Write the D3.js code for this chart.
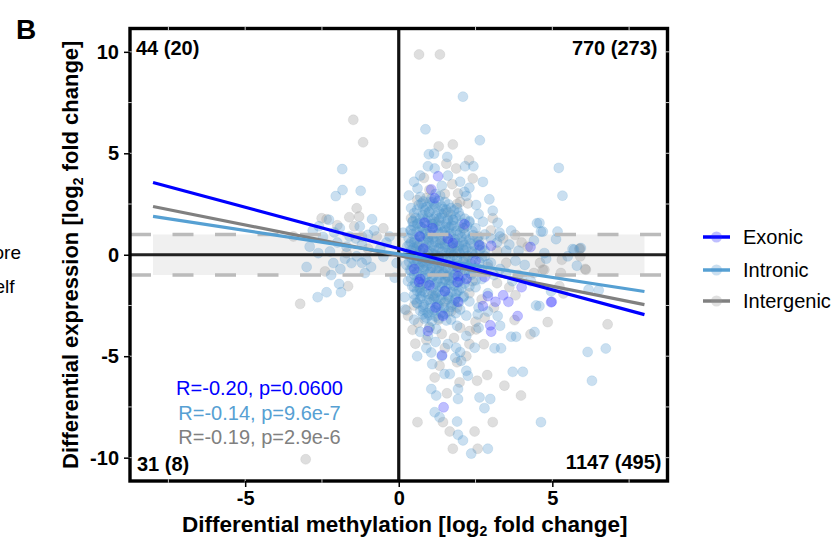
<!DOCTYPE html>
<html>
<head>
<meta charset="utf-8">
<script src="https://cdn.jsdelivr.net/npm/d3@7"></script>
<style>
  body { margin: 0; background: #fff; }
  svg { font-family: "Liberation Sans", Arial, sans-serif; }
</style>
</head>
<body>
<div id="chart"></div>
<script>
// Panel B: differential methylation vs differential expression

const xDomain = [-8.75, 8.75];
const yDomain = [-11.15, 11.15];
const xTicks = [-5, 0, 5];
const yTicks = [-10, -5, 0, 5, 10];
const minorTicks = [-10, -7.5, -5, -2.5, 2.5, 5, 7.5, 10];

const seriesNames = ['Exonic', 'Intronic', 'Intergenic'];
const seriesColors = ['#0000ff', '#56a0d3', '#808080'];
const pointColors = ['#2a2aff', '#4f96cc', '#999999'];

const exonicPts = [
  [1.28,3.87],[1.06,3.22],[1.17,2.78],[0.84,1.58],[2.14,1.50],[1.76,0.57],[2.63,0.46],[0.68,0.90],[3.01,0.44],[4.29,0.38],
  [0.66,-1.34],[1.93,-1.06],[1.92,-1.35],[1.93,-2.32],[2.74,-2.53],[3.15,-2.32],[3.57,-2.32],[3.87,-3.02],[4.98,-2.32],
  [2.98,-3.48],[3.01,-3.79],[1.44,-3.02],[0.95,-3.76],[1.41,-4.95],[1.46,-7.52],[2.90,-2.04],[4.96,-2.34],
  [0.8,0.3],[1.3,-0.2],[1.9,-0.6],[1.0,-1.5],[1.5,-1.8],[2.2,-1.2],[1.1,1.3],[1.6,0.8],[2.5,-0.3],[1.2,-2.6],
  [0.7,-1.2],[2.8,-1.1],[3.4,-2.0],[4.0,-1.6],[0.5,-0.7]
];

const intronicPts = [
  // left of zero
  [-1.84,4.22],[-1.83,3.19],[-2.05,2.89],[-1.24,3.15],[-2.27,1.72],[-0.87,1.75],[-1.92,1.32],[-1.27,1.39],[-1.0,0.98],
  [-2.47,0.88],[-2.62,0.08],[-2.24,0.16],[-1.37,-0.08],[-1.05,-0.25],[-2.13,-0.41],[-1.54,-0.41],[-1.94,-1.44],
  [-1.88,-1.85],[-2.35,-1.85],[-2.64,-2.09],[-0.07,-0.41],[-0.13,-1.13],[-2.0,0.6],[-1.6,0.9],[-1.2,0.5],[-0.6,0.3],
  [-2.8,1.2],[-0.4,0.6],[-1.75,-0.2],[-0.9,-0.6],[-2.2,-1.0],[-1.1,-0.9],[-2.9,0.4],[-0.5,-0.1],[-3.0,-0.6],
  [-2.1,1.1],[-1.7,0.4],[-1.4,0.8],[-0.8,1.2],[-2.6,1.4],[-1.2,-0.4],[-0.3,0.9],[-1.9,-0.7],
  // upper right
  [2.09,7.79],[0.87,6.18],[2.64,5.64],[0.98,4.95],[1.15,4.98],[1.58,4.82],[2.16,4.36],[2.43,4.36],[0.95,4.36],[1.17,4.25],
  [2.74,3.59],[0.33,2.92],[0.61,3.27],[2.14,3.10],[2.95,2.73],[2.52,2.45],[0.74,2.53],[3.06,2.17],[0.46,1.67],[2.74,1.63],
  [3.22,1.58],[1.76,1.72],[3.28,1.09],[3.66,1.19],[4.50,1.55],[4.63,1.14],[5.21,4.28],[5.33,2.91],[5.17,1.14],[5.12,0.77],
  [2.14,0.49],[0.14,1.09],[5.71,0.25],[5.93,0.33],[4.74,0.08],[4.58,1.57],[4.69,1.14],[5.50,-0.08],[5.66,0.28],
  [0.5,3.6],[0.7,3.9],[1.4,3.4],[1.6,3.9],[2.0,3.6],[2.3,3.3],[1.9,2.3],[2.6,2.0],[0.4,2.3],[2.2,2.9],
  [3.3,0.9],[3.6,0.5],[3.9,0.2],[4.1,-0.5],[3.5,-0.9],[3.0,0.8],[4.4,0.7],[4.8,-0.2],[4.3,-1.3],[3.7,-1.3],
  // lower right
  [0.2,-2.7],[0.19,-2.09],[0.52,-2.2],[0.74,-1.8],[0.79,-2.94],[0.95,-4.0],[1.06,-4.82],[1.09,-5.39],[1.49,-5.88],
  [1.66,-5.88],[2.03,-5.23],[1.84,-5.07],[1.87,-4.58],[1.06,-6.62],[1.22,-6.94],[1.93,-6.62],[1.93,-7.11],[2.20,-5.72],
  [2.25,-5.96],[2.63,-7.03],[2.98,-7.11],[2.79,-7.56],[3.71,-5.77],[4.04,-5.77],[1.17,-7.76],[1.33,-8.01],[1.90,-8.22],
  [1.93,-8.87],[2.09,-9.15],[2.36,-9.80],[2.90,-9.56],[4.63,-8.25],[4.47,-2.5],[4.42,-3.81],[3.66,-4.04],[3.82,-4.04],
  [3.12,-4.61],[3.33,-4.61],[2.47,-4.58],[2.57,-2.94],[3.22,-3.02],[4.96,-1.8],[6.18,-1.72],[6.51,-1.75],[4.58,-2.53],
  [6.15,-4.79],[6.74,-4.62],[6.29,-6.21],[5.80,-0.54],
  [0.5,-3.2],[0.7,-3.8],[1.2,-4.3],[1.6,-4.4],[2.2,-4.0],[2.6,-3.6],[2.9,-2.8],[3.3,-3.5],[0.9,-4.6],[1.4,-5.0],
  [2.0,-4.8],[0.6,-5.0],
  // dense core
  [0.4,1.2],[0.6,1.5],[0.8,1.8],[1.0,2.1],[1.2,2.4],[1.4,2.0],[1.6,1.7],[1.8,1.4],[2.0,1.1],[2.2,0.8],
  [0.5,0.6],[0.7,0.9],[0.9,1.2],[1.1,1.5],[1.3,1.8],[1.5,1.2],[1.7,0.9],[1.9,0.6],[2.1,0.3],[2.4,0.1],
  [0.3,0.0],[0.5,-0.3],[0.7,0.2],[0.9,0.5],[1.1,0.8],[1.3,1.1],[1.5,0.4],[1.7,0.1],[1.9,-0.2],[2.2,-0.5],
  [0.4,-0.8],[0.6,-1.1],[0.8,-0.6],[1.0,-0.3],[1.2,0.0],[1.4,-0.4],[1.6,-0.7],[1.8,-1.0],[2.0,-1.3],[2.3,-0.9],
  [0.5,-1.6],[0.7,-1.9],[0.9,-1.4],[1.1,-1.1],[1.3,-0.8],[1.5,-1.2],[1.7,-1.5],[1.9,-1.8],[2.1,-2.1],[2.5,-1.6],
  [0.6,-2.4],[0.8,-2.7],[1.0,-2.2],[1.2,-1.9],[1.4,-1.6],[1.6,-2.0],[1.8,-2.4],[2.0,-2.7],[2.3,-2.3],[2.7,-1.2],
  [0.9,-3.1],[1.1,-2.8],[1.3,-2.5],[1.5,-2.9],[1.7,-3.2],[1.9,-3.5],[2.2,-3.0],[2.6,-2.6],[2.9,-1.9],[3.1,-1.0],
  [2.6,0.5],[2.8,0.2],[3.0,-0.4],[3.3,-0.7],[2.5,1.3],[2.8,1.0],[3.2,0.6],[3.5,0.2],[3.8,-0.3],[4.0,-1.1],
  [1.0,2.6],[1.2,3.0],[0.8,2.3],[1.5,2.6],[1.7,2.3],[2.0,1.9],[2.3,1.6],[0.35,0.5],[0.25,-0.5],[0.3,-1.3],
  [0.55,0.25],[0.75,-0.15],[0.95,0.05],[1.15,0.35],[1.35,0.55],[1.55,-0.05],[1.75,0.45],[1.95,0.15],[1.05,-0.65],
  [1.25,-1.35],[1.45,-0.95],[1.65,-1.25],[0.85,-1.05],[0.65,-0.55],[1.35,1.45],[1.05,1.75],[0.95,0.85],[1.65,1.35],
  [1.45,2.25],[1.25,-2.15],[1.85,-2.15],[0.75,1.35],
  [0.7,2.85],[1.05,2.75],[1.35,2.9],
  [0.65,2.45],[0.9,2.35],[1.15,2.5],[1.4,2.38],[1.62,2.48],
  [0.5,2.05],[0.78,1.95],[0.98,2.1],[1.22,1.92],[1.48,2.06],[1.7,1.96],[1.95,2.08],
  [0.45,1.62],[0.62,1.55],[0.88,1.68],[1.08,1.52],[1.3,1.66],[1.55,1.54],[1.78,1.7],[2.05,1.58],[2.3,1.66],
  [0.38,1.22],[0.58,1.14],[0.8,1.28],[1.02,1.16],[1.2,1.3],[1.42,1.12],[1.64,1.26],[1.88,1.18],[2.12,1.3],[2.4,1.16],
  [0.32,0.82],[0.52,0.74],[0.72,0.88],[0.96,0.76],[1.14,0.86],[1.36,0.72],[1.58,0.9],[1.82,0.76],[2.04,0.86],[2.3,0.74],[2.56,0.84],
  [0.28,0.42],[0.48,0.34],[0.66,0.48],[0.86,0.36],[1.08,0.46],[1.3,0.32],[1.5,0.5],[1.72,0.36],[1.96,0.44],[2.2,0.34],[2.45,0.46],[2.72,0.38],
  [0.3,0.04],[0.5,-0.06],[0.7,0.08],[0.9,-0.04],[1.1,0.06],[1.32,-0.08],[1.54,0.1],[1.78,-0.02],[2.0,0.06],[2.25,-0.06],[2.5,0.04],[2.8,-0.08],
  [0.34,-0.36],[0.56,-0.46],[0.76,-0.34],[0.98,-0.44],[1.18,-0.32],[1.4,-0.48],[1.62,-0.36],[1.86,-0.46],[2.1,-0.34],[2.35,-0.44],[2.62,-0.36],[2.9,-0.46],
  [0.36,-0.76],[0.6,-0.86],[0.82,-0.74],[1.02,-0.84],[1.24,-0.78],[1.46,-0.88],[1.68,-0.74],[1.92,-0.84],[2.16,-0.76],[2.42,-0.86],[2.7,-0.74],
  [0.4,-1.16],[0.64,-1.26],[0.86,-1.14],[1.08,-1.24],[1.3,-1.18],[1.52,-1.28],[1.74,-1.14],[1.98,-1.24],[2.22,-1.16],[2.5,-1.26],
  [0.44,-1.56],[0.68,-1.66],[0.9,-1.54],[1.12,-1.64],[1.34,-1.58],[1.56,-1.68],[1.8,-1.54],[2.04,-1.64],[2.3,-1.56],
  [0.5,-1.96],[0.74,-2.06],[0.96,-1.94],[1.18,-2.04],[1.4,-1.98],[1.62,-2.08],[1.86,-1.94],[2.12,-2.04],
  [0.58,-2.36],[0.82,-2.46],[1.04,-2.34],[1.26,-2.44],[1.48,-2.38],[1.72,-2.48],[1.96,-2.34],
  [0.7,-2.76],[0.94,-2.86],[1.16,-2.74],[1.38,-2.84],[1.62,-2.78],[1.86,-2.88],
  [0.84,-3.16],[1.08,-3.26],[1.3,-3.14],[1.55,-3.24],
  [1.0,-3.56],[1.22,-3.66],
  [0.8,2.62],[1.1,2.58],[1.3,2.66],
  [0.6,2.22],[0.85,2.18],[1.1,2.24],[1.3,2.16],[1.55,2.22],[1.8,2.18],
  [0.55,1.82],[0.7,1.78],[0.95,1.84],[1.15,1.76],[1.38,1.82],[1.6,1.78],[1.85,1.84],[2.15,1.78],
  [0.48,1.42],[0.7,1.36],[0.92,1.44],[1.12,1.38],[1.32,1.42],[1.52,1.36],[1.72,1.44],[1.98,1.38],[2.22,1.42],
  [0.45,1.02],[0.66,0.96],[0.88,1.04],[1.08,0.98],[1.28,1.02],[1.48,0.96],[1.7,1.04],[1.92,0.98],[2.16,1.02],[2.42,0.96],
  [0.4,0.62],[0.6,0.56],[0.8,0.64],[0.98,0.58],[1.2,0.62],[1.4,0.56],[1.62,0.64],[1.84,0.58],[2.08,0.62],[2.34,0.56],[2.6,0.64],
  [0.4,0.22],[0.58,0.16],[0.78,0.24],[0.98,0.18],[1.2,0.22],[1.42,0.16],[1.64,0.24],[1.88,0.18],[2.12,0.22],[2.38,0.16],[2.64,0.24],
  [0.42,-0.18],[0.6,-0.24],[0.82,-0.16],[1.02,-0.22],[1.22,-0.18],[1.44,-0.24],[1.66,-0.16],[1.9,-0.22],[2.14,-0.18],[2.4,-0.24],[2.7,-0.16],
  [0.45,-0.58],[0.68,-0.64],[0.9,-0.56],[1.1,-0.62],[1.32,-0.58],[1.54,-0.64],[1.76,-0.56],[2.0,-0.62],[2.26,-0.58],[2.54,-0.64],
  [0.5,-0.98],[0.72,-1.04],[0.94,-0.96],[1.16,-1.02],[1.38,-0.98],[1.6,-1.04],[1.84,-0.96],[2.08,-1.02],[2.36,-0.98],
  [0.54,-1.38],[0.78,-1.44],[1.0,-1.36],[1.2,-1.42],[1.42,-1.38],[1.64,-1.44],[1.88,-1.36],[2.14,-1.42],
  [0.6,-1.78],[0.84,-1.84],[1.06,-1.76],[1.28,-1.82],[1.5,-1.78],[1.72,-1.84],[1.96,-1.76],
  [0.7,-2.18],[0.92,-2.24],[1.14,-2.16],[1.36,-2.22],[1.58,-2.18],[1.82,-2.24],
  [0.8,-2.58],[1.02,-2.64],[1.24,-2.56],[1.48,-2.62],[1.7,-2.58],
  [1.0,-2.98],[1.2,-3.04],[1.42,-2.96]
];

const intergenicPts = [
  // left of zero
  [-1.48,6.65],[-1.16,5.54],[-1.37,2.29],[-2.51,1.80],[-1.61,1.85],[-1.29,1.88],[-0.72,0.90],[-3.43,0.90],[-1.70,0.08],
  [-2.40,-0.82],[-1.65,-1.55],[-3.21,-2.42],[-3.03,-10.08],[-2.35,1.75],[-1.45,1.4],[-1.0,0.3],
  [-1.2,0.9],[-2.0,1.45],[-0.5,1.3],
  // upper right
  [0.66,9.87],[1.34,9.87],[1.30,5.34],[1.76,5.43],[1.55,4.49],[1.87,4.25],[2.29,4.66],[2.41,3.76],[0.82,3.79],[1.74,3.48],
  [1.93,3.02],[2.25,2.53],[3.06,1.80],[3.79,0.98],
  [1.0,3.2],[1.5,3.0],[2.0,2.6],[0.6,2.7],
  [3.2,0.2],[3.5,-0.4],[4.0,0.6],[4.4,-0.9],[3.9,-1.0],
  // lower right
  [0.25,-2.73],[0.54,-4.38],[0.63,-3.35],[1.33,-5.47],[1.17,-6.05],[1.57,-6.83],[1.98,-6.29],[2.55,-6.21],[2.88,-5.93],
  [3.44,-6.45],[3.98,-6.94],[1.44,-8.25],[0.61,-8.25],[1.66,-8.71],[2.47,-8.71],[3.06,-8.25],[1.76,-9.56],[2.57,-9.56],
  [4.85,-3.32],[4.29,-3.92],[2.77,-4.41],[2.52,-3.68],[2.31,-3.76],[3.77,-3.22],
  [0.9,-4.2],[1.5,-4.6],[2.3,-4.4],[2.8,-3.1],[3.1,-2.6],[0.45,-3.7],[1.9,-5.3],[2.2,-5.0],
  // right tail
  [5.90,0.31],[5.91,-0.08],[5.31,-0.25],[6.07,-0.70],[4.74,-0.74],[5.28,-0.9],[5.23,-1.55],[5.36,-1.91],[6.80,-3.43],
  [5.88,0.28],[6.09,-0.74],[4.69,-0.74],
  // dense core
  [0.6,0.4],[1.0,1.0],[1.4,0.7],[1.8,0.3],[2.2,-0.2],[0.8,-0.4],[1.2,-0.7],[1.6,-1.1],[2.0,-0.8],[2.4,-1.3],
  [0.7,-1.6],[1.1,-2.0],[1.5,-2.3],[1.9,-2.6],[2.3,-1.9],[1.3,-3.2],[1.7,-2.8],[2.7,-2.2],[1.2,1.6],[1.6,2.1],
  [2.1,1.3],[2.6,0.9],[2.9,-0.6],[3.2,-1.4],[3.6,-1.6],[0.5,-2.5],[1.0,-3.6],[1.4,-3.9],[1.8,-4.1],[2.0,-3.6],
  [0.4,1.8],[0.9,2.8],[1.9,2.5],[3.4,0.8],[3.0,1.2],[4.2,0.4],[4.6,-0.4],[3.8,-2.0],[2.5,-3.3],[0.3,-3.0]
];

// fitted regression lines, end points
const fitX = [-8, 8];
const fitY = [[3.56, -2.95], [1.89, -1.81], [2.38, -2.46]];

const statLabels = ['R=-0.20, p=0.0600', 'R=-0.14, p=9.6e-7', 'R=-0.19, p=2.9e-6'];
const quadrantCounts = ['44 (20)', '770 (273)', '31 (8)', '1147 (495)'];
const bandLimit = 1;

const W = 834, H = 540;
const plot = { left: 130, right: 667.5, top: 28.5, bottom: 481 };

const svg = d3.select('#chart').append('svg')
  .attr('width', W)
  .attr('height', H);

const x = d3.scaleLinear().domain(xDomain).range([plot.left, plot.right]);
const y = d3.scaleLinear().domain(yDomain).range([plot.bottom, plot.top]);

// grey band between -1 and +1
svg.append('rect')
  .attr('x', x(fitX[0]))
  .attr('y', y(bandLimit))
  .attr('width', x(fitX[1]) - x(fitX[0]))
  .attr('height', y(-bandLimit) - y(bandLimit))
  .attr('fill', '#f0f0f0');

// scatter points
const pointSets = [intergenicPts, intronicPts, exonicPts];
const pointIdx = [2, 1, 0];
const pointAlpha = [0.32, 0.3, 0.3];
pointSets.forEach((pts, k) => {
  const c = pointColors[pointIdx[k]];
  svg.append('g').selectAll('circle')
    .data(pts)
    .enter()
    .append('circle')
    .attr('cx', d => x(d[0]))
    .attr('cy', d => y(d[1]))
    .attr('r', 5)
    .attr('fill', c)
    .attr('fill-opacity', pointAlpha[k])
    .attr('stroke', c)
    .attr('stroke-opacity', 0.2)
    .attr('stroke-width', 0.8);
});

// dashed threshold lines
[bandLimit, -bandLimit].forEach(v => {
  svg.append('line')
    .attr('x1', plot.left).attr('x2', plot.right)
    .attr('y1', y(v)).attr('y2', y(v))
    .attr('stroke', '#bbbbbb')
    .attr('stroke-width', 3.5)
    .attr('stroke-dasharray', '21,21.5');
});

// zero lines
svg.append('line')
  .attr('x1', plot.left).attr('x2', plot.right)
  .attr('y1', y(0)).attr('y2', y(0))
  .attr('stroke', '#222').attr('stroke-width', 3.2);
svg.append('line')
  .attr('x1', x(0)).attr('x2', x(0))
  .attr('y1', plot.top).attr('y2', plot.bottom)
  .attr('stroke', '#111').attr('stroke-width', 3.2);

// regression lines
const line = d3.line().x(d => x(d[0])).y(d => y(d[1]));
[2, 1, 0].forEach(i => {
  svg.append('path')
    .datum(fitX.map((v, j) => [v, fitY[i][j]]))
    .attr('d', line)
    .attr('fill', 'none')
    .attr('stroke', seriesColors[i])
    .attr('stroke-width', 3.2);
});

// frame
svg.append('rect')
  .attr('x', plot.left).attr('y', plot.top)
  .attr('width', plot.right - plot.left)
  .attr('height', plot.bottom - plot.top)
  .attr('fill', 'none')
  .attr('stroke', '#000')
  .attr('stroke-width', 3.4);

// faint minor ticks sitting on the frame
minorTicks.forEach(v => {
  if (v >= xDomain[0] && v <= xDomain[1]) {
    [plot.top, plot.bottom].forEach(py => {
      svg.append('line')
        .attr('x1', x(v)).attr('x2', x(v))
        .attr('y1', py - 1.7).attr('y2', py + 1.7)
        .attr('stroke', '#fff').attr('stroke-width', 1).attr('opacity', 0.8);
    });
  }
  [plot.left, plot.right].forEach(px => {
    svg.append('line')
      .attr('x1', px - 1.7).attr('x2', px + 1.7)
      .attr('y1', y(v)).attr('y2', y(v))
      .attr('stroke', '#fff').attr('stroke-width', 1).attr('opacity', 0.8);
  });
});

// axes (plain hyphen minus, as in the figure)
const xAxis = svg.append('g')
  .attr('transform', `translate(0,${plot.bottom})`)
  .call(d3.axisBottom(x).tickValues(xTicks).tickSize(6).tickPadding(4).tickFormat(d => String(d)));
const yAxis = svg.append('g')
  .attr('transform', `translate(${plot.left},0)`)
  .call(d3.axisLeft(y).tickValues(yTicks).tickSize(6).tickPadding(5).tickFormat(d => String(d)));

[xAxis, yAxis].forEach(a => {
  a.select('.domain').remove();
  a.selectAll('.tick line').attr('stroke', '#000').attr('stroke-width', 1.5);
  a.selectAll('.tick text')
    .attr('fill', '#000')
    .style('font-family', '"Liberation Sans", Arial, sans-serif')
    .style('font-size', '20px')
    .style('font-weight', 'bold');
});
xAxis.selectAll('.tick text').attr('dy', '0.72em');

// axis titles with subscript
const xTitle = svg.append('text')
  .attr('x', (plot.left + plot.right) / 2 + 6)
  .attr('y', 532)
  .attr('text-anchor', 'middle')
  .style('font-size', '22.5px')
  .style('font-weight', 'bold');
xTitle.append('tspan').text('Differential methylation [log');
xTitle.append('tspan').attr('dy', 4).style('font-size', '14px').text('2');
xTitle.append('tspan').attr('dy', -4).text(' fold change]');

const yTitle = svg.append('text')
  .attr('transform', `translate(78,${(plot.top + plot.bottom) / 2}) rotate(-90)`)
  .attr('text-anchor', 'middle')
  .style('font-size', '22px')
  .style('font-weight', 'bold');
yTitle.append('tspan').text('Differential expression [log');
yTitle.append('tspan').attr('dy', 5).style('font-size', '14px').text('2');
yTitle.append('tspan').attr('dy', -5).text(' fold change]');

// quadrant counts
const countPos = [
  { x: plot.left + 6, y: 55, anchor: 'start' },
  { x: plot.right - 10, y: 55, anchor: 'end' },
  { x: plot.left + 7, y: 471, anchor: 'start' },
  { x: plot.right - 6, y: 469, anchor: 'end' }
];
quadrantCounts.forEach((t, i) => {
  svg.append('text')
    .attr('x', countPos[i].x)
    .attr('y', countPos[i].y)
    .attr('text-anchor', countPos[i].anchor)
    .style('font-size', '20px')
    .style('font-weight', 'bold')
    .text(t);
});

// correlation stats
statLabels.forEach((t, i) => {
  svg.append('text')
    .attr('x', 259.5)
    .attr('y', 395 + i * 24.5)
    .attr('text-anchor', 'middle')
    .attr('fill', seriesColors[i])
    .style('font-size', '20px')
    .text(t);
});

// legend
const legend = svg.append('g').attr('transform', 'translate(703,0)');
const legendY = [237, 270, 301];
seriesNames.forEach((name, i) => {
  legend.append('line')
    .attr('x1', 0).attr('x2', 27)
    .attr('y1', legendY[i]).attr('y2', legendY[i])
    .attr('stroke', seriesColors[i])
    .attr('stroke-width', 3.5);
  legend.append('circle')
    .attr('cx', 13.5).attr('cy', legendY[i])
    .attr('r', 5.5)
    .attr('fill', pointColors[i])
    .attr('fill-opacity', 0.3);
  legend.append('text')
    .attr('x', 40)
    .attr('y', legendY[i])
    .attr('dy', '0.35em')
    .style('font-size', '20px')
    .text(name);
});

// panel letter
svg.append('text')
  .attr('x', 16)
  .attr('y', 38.5)
  .style('font-size', '28px')
  .style('font-weight', 'bold')
  .text('B');

// clipped text from the neighbouring panel
svg.append('text').attr('x', 21).attr('y', 259).attr('text-anchor', 'end')
  .style('font-size', '19px').text('ore');
svg.append('text').attr('x', 14.5).attr('y', 292.5).attr('text-anchor', 'end')
  .style('font-size', '19px').text('elf');
</script>
</body>
</html>
